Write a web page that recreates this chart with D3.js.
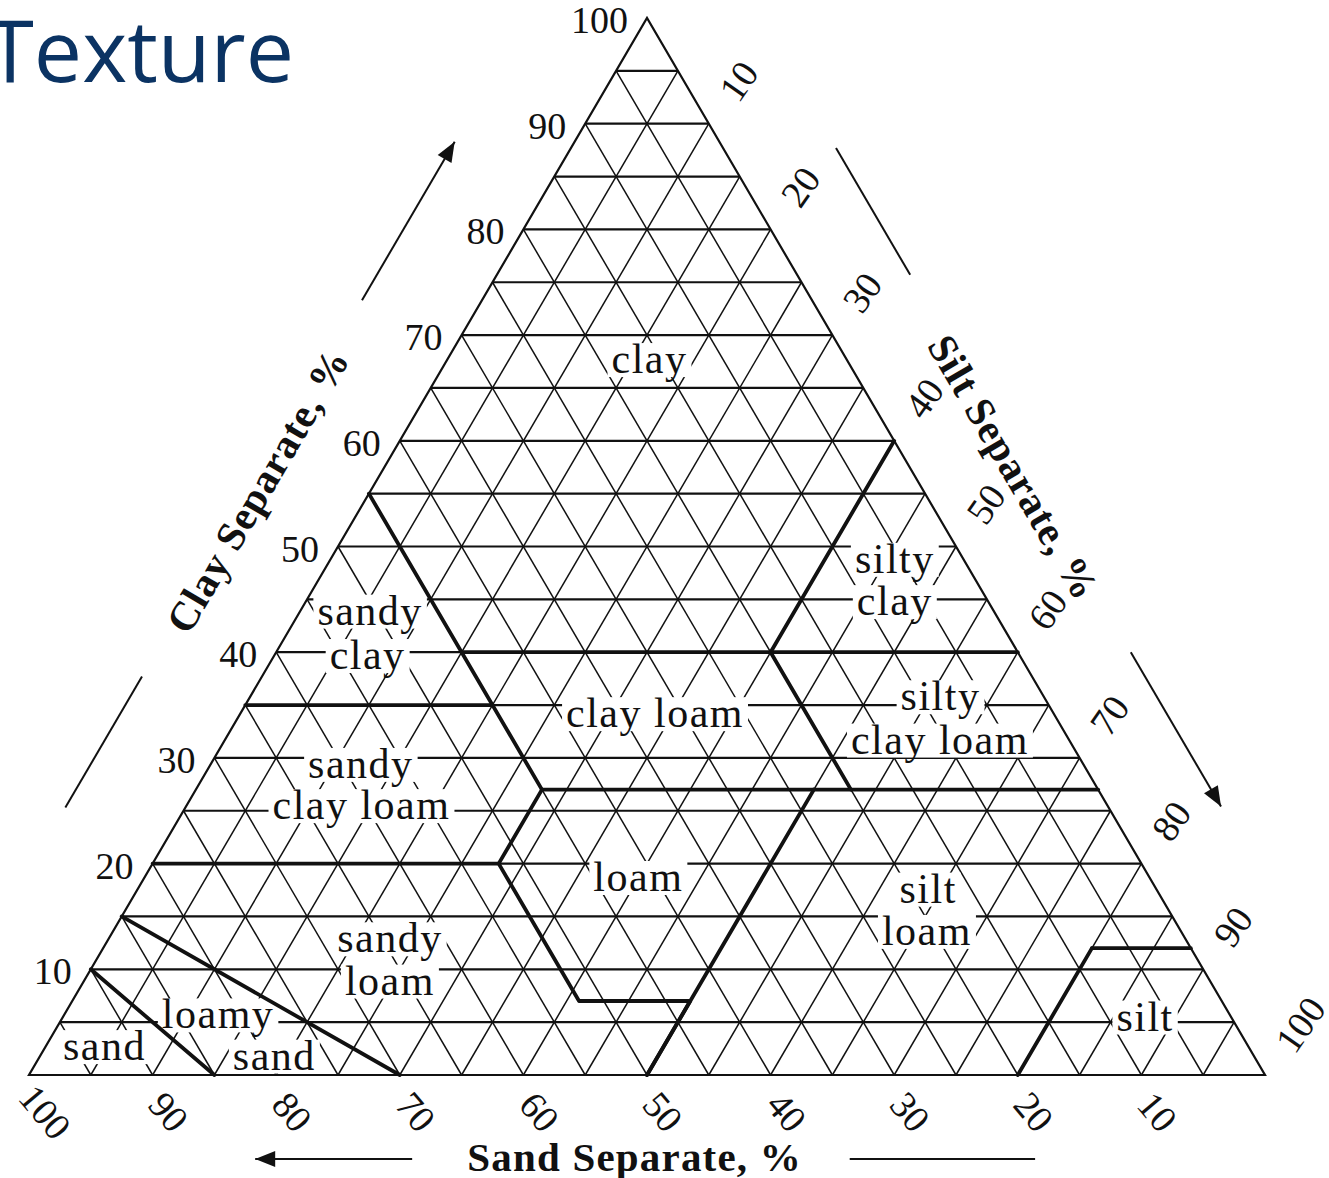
<!DOCTYPE html>
<html><head><meta charset="utf-8">
<script src="https://cdn.jsdelivr.net/npm/d3@7"></script>
<style>body{margin:0;background:#fff}svg{display:block}</style>
</head><body><svg id="chart"></svg>
<script>
// ---------- data ----------
const gridSteps = d3.range(5, 100, 5);
const clayTicks = [10, 20, 30, 40, 50, 60, 70, 80, 90, 100];
const siltTicks = [10, 20, 30, 40, 50, 60, 70, 80, 90, 100];
const sandTicks = [100, 90, 80, 70, 60, 50, 40, 30, 20, 10];

// class boundaries as [sand, silt, clay] vertices
const boundaries = [
  [[90, 0, 10], [85, 15, 0]],
  [[85, 0, 15], [70, 30, 0]],
  [[80, 0, 20], [52, 28, 20], [52, 41, 7], [43, 50, 7], [50, 50, 0]],
  [[50, 50, 0], [23, 50, 27]],
  [[45, 28, 27], [0, 73, 27]],
  [[52, 28, 20], [45, 28, 27]],
  [[45, 28, 27], [45, 0, 55]],
  [[65, 0, 35], [45, 20, 35]],
  [[45, 15, 40], [0, 60, 40]],
  [[20, 53, 27], [20, 40, 40]],
  [[20, 40, 40], [0, 40, 60]],
  [[20, 80, 0], [8, 80, 12]],
  [[8, 80, 12], [0, 88, 12]]
];

// texture class labels (one entry per text line)
const labelText = ["clay", "silty", "clay", "sandy", "clay", "clay loam", "silty", "clay loam",
  "sandy", "clay loam", "loam", "silt", "loam", "sandy", "loam", "loamy", "sand", "sand", "silt"];
const labelClay = [67.6, 48.7, 44.7, 43.8, 39.6, 34.1, 35.7, 31.6, 29.3, 25.4, 18.6, 17.5, 13.5, 12.8, 8.8, 5.6, 1.7, 2.6, 5.4];
const labelSilt = [16.4, 45.7, 47.7, 5.7, 7.6, 33.6, 55.9, 57.9, 12.2, 14.2, 40.0, 64.0, 65.9, 22.8, 24.8, 12.5, 19.0, 4.8, 87.6];

const axisTitles = ["Clay Separate, %", "Silt Separate, %", "Sand Separate, %"];
const chartTitle = "Texture";

// ---------- drawing ----------
const W = 1329, H = 1178;
const serif = "'Liberation Serif','Times New Roman',serif";
const svg = d3.select("#chart").attr("width", W).attr("height", H);
svg.append("rect").attr("width", W).attr("height", H).attr("fill", "#fff");

const x = d3.scaleLinear().domain([0, 100]).range([29, 1265]);
const y = d3.scaleLinear().domain([0, 100]).range([1075, 18]);
const P = (sand, silt, clay) => [x(silt + clay / 2), y(clay)];
const line = d3.line();
const ink = "#111";

// grid
const gridG = svg.append("g").attr("fill", "none").attr("stroke", ink);
gridSteps.forEach(v => {
  gridG.append("path").attr("d", line([P(100 - v, 0, v), P(0, 100 - v, v)])).attr("stroke-width", 2.2);
  gridG.append("path").attr("d", line([P(100 - v, v, 0), P(0, v, 100 - v)])).attr("stroke-width", 1.5);
  gridG.append("path").attr("d", line([P(v, 100 - v, 0), P(v, 0, 100 - v)])).attr("stroke-width", 1.5);
});

const bgG = svg.append("g");
const boundG = svg.append("g").attr("fill", "none").attr("stroke", ink).attr("stroke-width", 3.8)
  .attr("stroke-linejoin", "round").attr("stroke-linecap", "round");
boundaries.forEach(b => boundG.append("path").attr("d", line(b.map(p => P(p[0], p[1], p[2])))));

// outline
svg.append("path").attr("d", line([P(100, 0, 0), P(0, 100, 0), P(0, 0, 100)]) + "Z")
  .attr("fill", "none").attr("stroke", ink).attr("stroke-width", 2.2);

// class labels with white background boxes
const textG = svg.append("g").style("font-family", serif).style("font-size", "42px")
  .style("letter-spacing", "1.5px").attr("fill", ink);
labelText.forEach((t, i) => {
  const [px, py] = P(100 - labelClay[i] - labelSilt[i], labelSilt[i], labelClay[i]);
  const tx = textG.append("text").attr("x", px).attr("y", py).attr("text-anchor", "middle")
    .attr("dy", "0.3em").text(t);
  const bb = tx.node().getBBox();
  bgG.append("rect").attr("x", bb.x - 4).attr("y", bb.y + 7).attr("width", bb.width + 8)
    .attr("height", bb.height - 12).attr("fill", "#fff");
});

// tick labels
const tickG = svg.append("g").style("font-family", serif).style("font-size", "38px").attr("fill", ink);
clayTicks.forEach(c => {
  const [px, py] = P(100 - c, 0, c);
  tickG.append("text").attr("x", px - 19).attr("y", py + 2).attr("text-anchor", "end")
    .attr("dominant-baseline", "central").text(c);
});
siltTicks.forEach(s => {
  const [px, py] = P(0, s, 100 - s);
  const lx = px + 19, ly = py - 27;
  tickG.append("text").attr("transform", `translate(${lx},${ly}) rotate(-55)`)
    .attr("text-anchor", "start").attr("dominant-baseline", "central").text(s);
});
sandTicks.forEach(s => {
  const [px, py] = P(s, 100 - s, 0);
  const lx = px + 16, ly = py + 37;
  tickG.append("text").attr("transform", `translate(${lx},${ly}) rotate(50)`)
    .attr("text-anchor", "middle").attr("dominant-baseline", "central").text(s);
});

// axis titles
const angle = Math.atan2(y(0) - y(100), x(50) - x(0)) * 180 / Math.PI; // ~59.7
const titleG = svg.append("g").style("font-family", serif).style("font-size", "41px")
  .style("font-weight", "bold").style("letter-spacing", "0.8px").attr("fill", ink);
{
  const [ex, ey] = P(100 - 55.3, 0, 55.3);
  titleG.append("text").attr("transform", `translate(${ex - 113},${ey}) rotate(${-angle})`)
    .attr("text-anchor", "middle").attr("dominant-baseline", "central").text(axisTitles[0]);
  const [rx, ry] = P(0, 42.5, 57.5);
  titleG.append("text").attr("transform", `translate(${rx + 104},${ry}) rotate(${angle})`)
    .attr("text-anchor", "middle").attr("dominant-baseline", "central").text(axisTitles[1]);
  const [bx, by] = P(51, 49, 0);
  titleG.append("text").attr("x", bx).attr("y", by + 82).attr("text-anchor", "middle")
    .attr("dominant-baseline", "central").style("letter-spacing", "1.2px").text(axisTitles[2]);
}

// direction arrows / rules
const arrowG = svg.append("g");
function rule(p0, p1, head) {
  arrowG.append("path").attr("d", line([p0, p1])).attr("stroke", ink).attr("stroke-width", 2).attr("fill", "none");
  if (head) {
    const dx = p1[0] - p0[0], dy = p1[1] - p0[1], L = Math.hypot(dx, dy);
    const ux = dx / L, uy = dy / L, len = 20, hw = 8;
    const bx = p1[0] - ux * len, by = p1[1] - uy * len;
    arrowG.append("path").attr("d", line([p1, [bx - uy * hw, by + ux * hw], [bx + uy * hw, by - ux * hw]]) + "Z")
      .attr("fill", ink);
  }
}
const leftAt = (c, off) => { const p = P(100 - c, 0, c); return [p[0] - off, p[1]]; };
const rightAt = (s, off) => { const p = P(0, s, 100 - s); return [p[0] + off, p[1]]; };
const baseAt = (s, off) => { const p = P(s, 100 - s, 0); return [p[0], p[1] + off]; };
rule(leftAt(73.3, 120), leftAt(88.3, 120), true);
rule(leftAt(37.7, 120), leftAt(25.3, 120), false);
rule(rightAt(12.3, 113), rightAt(24.3, 113), false);
rule(rightAt(60, 113), rightAt(74.6, 113), true);
rule(baseAt(69, 84), baseAt(81.7, 84), true);
rule(baseAt(33.6, 84), baseAt(18.6, 84), false);

// page title
svg.append("text").attr("x", 294).attr("y", 82).attr("text-anchor", "end")
  .style("font-family", "'Open Sans','Noto Sans',sans-serif").style("font-size", "86px")
  .style("font-kerning", "none").attr("fill", "#0b3363").text(chartTitle);
</script></body></html>
